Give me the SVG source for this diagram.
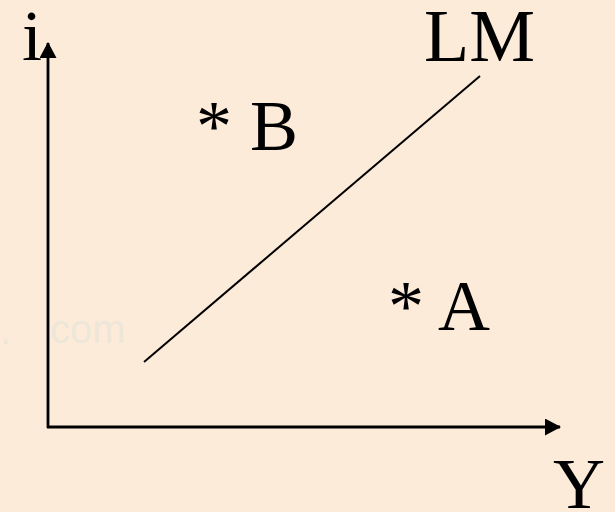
<svg xmlns="http://www.w3.org/2000/svg" width="615" height="512" viewBox="0 0 615 512">
<defs>
<style>
.lbl{font-family:"Liberation Serif","Times New Roman",serif;font-size:72px;fill:#000}
.ax{stroke:#000;stroke-width:2.8;fill:none}
.wm{font-family:"Liberation Sans",Arial,sans-serif;font-size:40px;fill:#EEE6D9}
</style>
<marker id="arr" viewBox="0 0 16 17" refX="15" refY="8.5" markerWidth="16" markerHeight="17" markerUnits="userSpaceOnUse" orient="auto">
<path d="M0,0 L16,8.5 L0,17 Z" fill="#000"/>
</marker>
</defs>
<rect width="615" height="512" fill="#FDEBD9"/>
<g id="watermark">
<text class="wm" x="0" y="344">.</text>
<text class="wm" x="50" y="343">com</text>
</g>
<g id="connectors">
<line id="y-axis" class="ax" x1="48" y1="428" x2="48" y2="43" marker-end="url(#arr)"/>
<line id="x-axis" class="ax" x1="47" y1="427" x2="560" y2="427" marker-end="url(#arr)"/>
<line id="lm-line" x1="144" y1="362" x2="480" y2="76" stroke="#000" stroke-width="2"/>
</g>
<g id="label-i"><text class="lbl" x="22" y="60">i</text></g>
<g id="label-LM"><text class="lbl" x="424" y="61" style="font-size:74px">LM</text></g>
<g id="point-B"><text class="lbl" x="196" y="150">* B</text></g>
<g id="point-A"><text class="lbl" x="388" y="330">* A</text></g>
<g id="label-Y"><text class="lbl" x="553" y="508">Y</text></g>
</svg>
